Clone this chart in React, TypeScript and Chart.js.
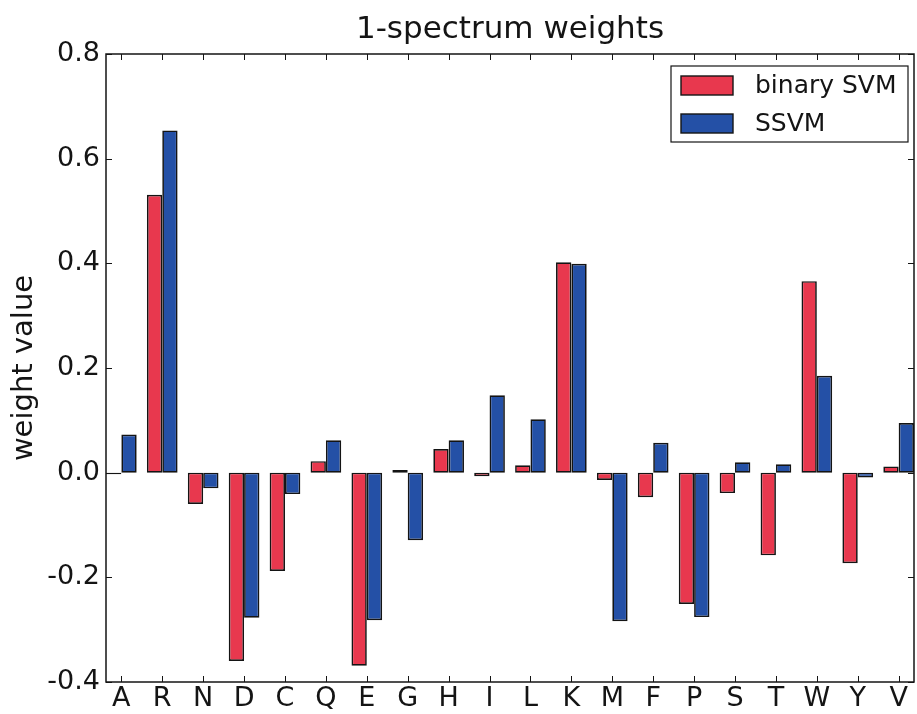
import { useEffect, useRef } from "react";
import { Chart, registerables } from "chart.js";

Chart.register(...registerables);

const categories = ["A", "R", "N", "D", "C", "Q", "E", "G", "H", "I", "L", "K", "M", "F", "P", "S", "T", "W", "Y", "V"];
const binarySVM = [-0.003, 0.531, -0.06, -0.36, -0.188, 0.022, -0.369, 0.005, 0.045, -0.007, 0.014, 0.402, -0.014, -0.047, -0.251, -0.039, -0.158, 0.366, -0.173, 0.012];
const ssvm = [0.073, 0.654, -0.03, -0.277, -0.041, 0.062, -0.282, -0.129, 0.062, 0.148, 0.102, 0.399, -0.284, 0.057, -0.276, 0.02, 0.016, 0.185, -0.009, 0.095];
const seriesNames = ["binary SVM", "SSVM"];
const seriesColors = ["#e8384e", "#2450a6"];
const yMin = -0.4;
const yMax = 0.8;
const yStep = 0.2;
const titleText = "1-spectrum weights";
const yLabel = "weight value";

const FONT = "'DejaVu Sans', sans-serif";
const INK = "#141414";

const decorPlugin = {
  id: "decor",
  afterDraw(chart: any) {
    const { ctx, chartArea } = chart;
    const { left, right, top, bottom } = chartArea;
    const xs = chart.scales.x;
    const ys = chart.scales.y;
    ctx.save();
    // frame
    ctx.strokeStyle = INK;
    ctx.lineWidth = 1.5;
    ctx.strokeRect(left, top, right - left, bottom - top);
    // inward ticks
    const tl = 6;
    ctx.beginPath();
    categories.forEach((_, i) => {
      const x = Math.round(xs.getPixelForValue(i)) + 0.5;
      ctx.moveTo(x, bottom);
      ctx.lineTo(x, bottom - tl);
      ctx.moveTo(x, top);
      ctx.lineTo(x, top + tl);
    });
    for (let v = yMin; v <= yMax + 1e-9; v += yStep) {
      const y = Math.round(ys.getPixelForValue(v)) + 0.5;
      ctx.moveTo(left, y);
      ctx.lineTo(left + tl, y);
      ctx.moveTo(right, y);
      ctx.lineTo(right - tl, y);
    }
    ctx.lineWidth = 1;
    ctx.stroke();
    // title
    ctx.fillStyle = INK;
    ctx.font = `31px ${FONT}`;
    ctx.textAlign = "center";
    ctx.textBaseline = "alphabetic";
    ctx.fillText(titleText, (left + right) / 2, 38);
    // legend
    const bx = 671, by = 66, bw = 237, bh = 76;
    ctx.fillStyle = "#ffffff";
    ctx.fillRect(bx, by, bw, bh);
    ctx.strokeStyle = INK;
    ctx.lineWidth = 1.2;
    ctx.strokeRect(bx, by, bw, bh);
    chart.data.datasets.forEach((ds: any, i: number) => {
      const py = by + 10 + i * 38;
      ctx.fillStyle = ds.backgroundColor;
      ctx.fillRect(bx + 10, py, 52, 19);
      ctx.strokeStyle = INK;
      ctx.lineWidth = 1.4;
      ctx.strokeRect(bx + 10, py, 52, 19);
      ctx.fillStyle = INK;
      ctx.font = `25px ${FONT}`;
      ctx.textAlign = "left";
      ctx.textBaseline = "middle";
      ctx.fillText(ds.label, bx + 84, py + 10);
    });
    ctx.restore();
  },
};

export default function App() {
  const ref = useRef<HTMLCanvasElement | null>(null);
  useEffect(() => {
    if (!ref.current) return;
    const series = [binarySVM, ssvm];
    const chart = new Chart(ref.current, {
      type: "bar",
      data: {
        datasets: series.map((vals, s) => ({
          label: seriesNames[s],
          data: vals.map((v, i) => ({ x: i, y: v })),
          backgroundColor: seriesColors[s],
          borderColor: INK,
          borderWidth: 1.7,
          borderSkipped: false,
          barPercentage: 1,
          categoryPercentage: 0.75,
        })),
      },
      options: {
        animation: false,
        responsive: false,
        maintainAspectRatio: false,
        layout: { padding: { top: 54, right: 3, left: 0, bottom: 0 } },
        plugins: {
          legend: { display: false },
          title: { display: false },
          tooltip: { enabled: false },
        },
        scales: {
          x: {
            type: "linear",
            offset: false,
            min: -0.375,
            max: categories.length - 1 + 0.375,
            grid: { display: false, drawTicks: false, offset: false },
            border: { display: false },
            afterBuildTicks: (s: any) => {
              s.ticks = categories.map((_, i) => ({ value: i }));
            },
            afterFit: (s: any) => {
              s.height = 32;
            },
            ticks: {
              autoSkip: false,
              maxRotation: 0,
              padding: 1,
              color: INK,
              font: { family: FONT, size: 27 },
              callback: (v: any) => categories[v] ?? "",
            },
          },
          y: {
            min: yMin,
            max: yMax,
            grid: { display: false, drawTicks: false },
            border: { display: false },
            afterFit: (s: any) => {
              s.width = 106;
            },
            ticks: {
              stepSize: yStep,
              padding: 6,
              color: INK,
              font: { family: FONT, size: 27 },
              callback: (v: any) => Number(v).toFixed(1),
            },
            title: {
              display: true,
              text: yLabel,
              color: INK,
              font: { family: FONT, size: 29 },
              padding: { top: 7, bottom: 0 },
            },
          },
        },
      },
      plugins: [decorPlugin],
    } as any);
    return () => chart.destroy();
  }, []);
  return (
    <div style={{ position: "fixed", left: 0, top: 0, width: 917, height: 714, background: "#fff" }}>
      <canvas ref={ref} width={917} height={714} style={{ display: "block" }} />
    </div>
  );
}
